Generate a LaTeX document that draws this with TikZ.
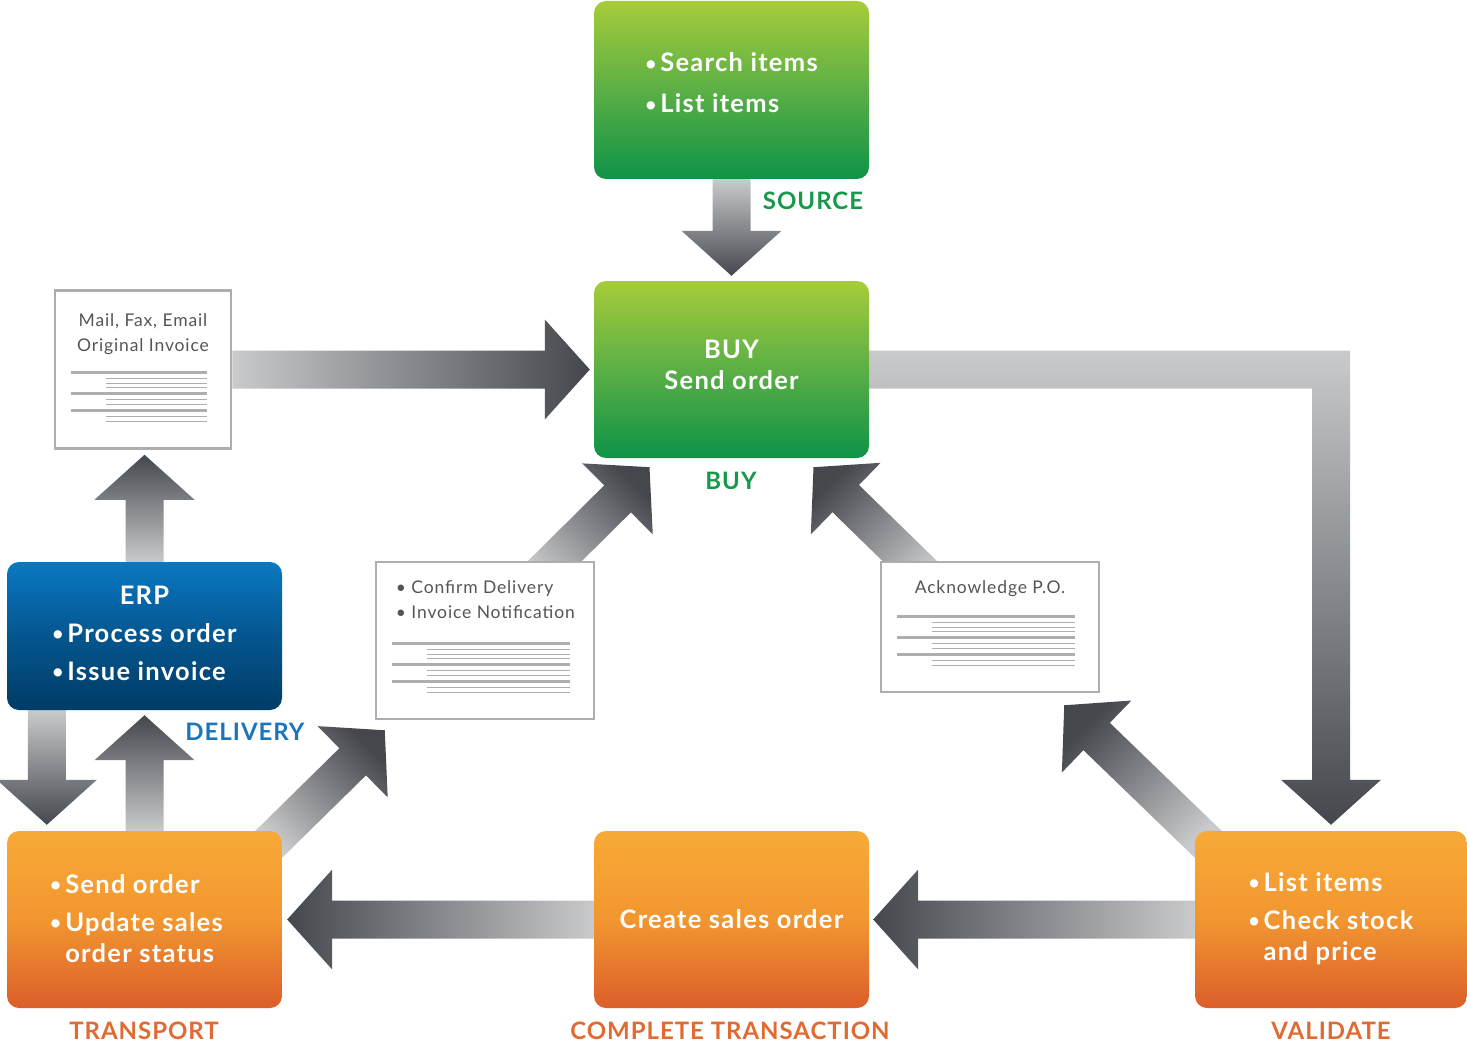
\documentclass[tikz,border=0pt]{standalone}
\usepackage{fontspec}
\setmainfont{Lato}
\usepackage{tikz}
\usetikzlibrary{positioning,calc,backgrounds}

\definecolor{greentop}{HTML}{A7CC3A}
\definecolor{greenmid}{HTML}{5BAF45}
\definecolor{greenbot}{HTML}{0E9347}
\definecolor{bluetop}{HTML}{0A78C2}
\definecolor{bluemid}{HTML}{04568F}
\definecolor{bluebot}{HTML}{003C66}
\definecolor{orangetop}{HTML}{F7AA37}
\definecolor{orangemid}{HTML}{F29630}
\definecolor{orangebot}{HTML}{DB5E2A}
\definecolor{glight}{HTML}{C8CACC}
\definecolor{gdark}{HTML}{44484D}
\definecolor{docline}{HTML}{AEAEAE}
\definecolor{doctxt}{HTML}{555555}
\definecolor{lblgreen}{HTML}{16994B}
\definecolor{lblblue}{HTML}{1B75BC}
\definecolor{lblorange}{HTML}{E06A31}

% small bullet for the boxes
\newcommand\bul{\raisebox{1.5pt}{\fontsize{19}{19}\selectfont•}}
% block arrow: [shading angle]{tail}{tip}
\newcommand\blockarrow[3][0]{%
  \coordinate (h) at ($(#3)!45pt!(#2)$);
  \shade[garrow, shading angle=#1]
    ($(#2)!19pt!90:(#3)$) -- ($(h)!19pt!90:(#3)$) -- ($(h)!50pt!90:(#3)$) -- (#3)
    -- ($(h)!50pt!-90:(#3)$) -- ($(h)!19pt!-90:(#3)$) -- ($(#2)!19pt!-90:(#3)$) -- cycle;
}
% ruled lines on a document
\newcommand\doclines[2]{%
  \foreach \dy in {0,21,38}
    \draw[docthick] ($(#1.north west)+(17,#2+\dy)$) -- ($(#1.north east)+(-25,#2+\dy)$);
  \foreach \dy in {6,11,15,27,32,44,49}
    \draw[docthin] ($(#1.north west)+(52,#2+\dy)$) -- ($(#1.north east)+(-25,#2+\dy)$);
}

\begin{document}
\begin{tikzpicture}[x=1pt,y=-1pt,
  box/.style={rounded corners=12pt, minimum width=275pt, text=white, inner sep=0pt,
    font=\bfseries\fontsize{25.5}{31}\selectfont\addfontfeature{LetterSpace=5}},
  greenbox/.style={box, top color=greentop, bottom color=greenbot, middle color=greenmid},
  bluebox/.style={box, top color=bluetop, bottom color=bluebot, middle color=bluemid},
  orangebox/.style={box, top color=orangetop, bottom color=orangebot, middle color=orangemid},
  doc/.style={draw=docline, line width=2.5pt, fill=white, inner sep=0pt},
  doctext/.style={text=doctxt, inner sep=0pt, font=\fontsize{17.5}{25}\selectfont\addfontfeature{LetterSpace=5}},
  lbl/.style={inner sep=0pt, font=\bfseries\fontsize{24}{28}\selectfont\addfontfeature{LetterSpace=4}},
  garrow/.style={top color=gdark, bottom color=glight},
  docthick/.style={docline, line width=3pt},
  docthin/.style={docline, line width=1.2pt}]
  \useasboundingbox (0,0) rectangle (1467,1043);

  % process boxes
  \node (src) [greenbox, minimum height=178pt] at (731.5,90)
    {\begin{tabular}{@{}l@{\hspace{4pt}}l@{}}\bul&Search items\\[10pt] \bul&List items\rule[-17pt]{0pt}{0pt}\end{tabular}};
  \node (buy) [greenbox, minimum height=177pt] at (731.5,369.5)
    {\begin{tabular}{@{}c@{}}BUY\\Send order\rule[-13pt]{0pt}{0pt}\end{tabular}};
  \node (erp) [bluebox, minimum height=148pt] at (144.5,636)
    {\begin{tabular}{@{}l@{\hspace{4pt}}l@{}}\multicolumn{2}{c}{ERP}\\[7pt] \bul&Process order\\[7pt] \bul&Issue invoice\end{tabular}};
  \node (trn) [orangebox, minimum height=177pt] at (144.5,919.5)
    {\begin{tabular}{@{}l@{\hspace{4pt}}l@{\hspace{16pt}}}\bul&Send order\rule{0pt}{26pt}\\[7pt] \bul&Update sales\\ &order status\end{tabular}};
  \node (cso) [orangebox, minimum height=177pt] at (731.5,919.5) {Create sales order};
  \node (val) [orangebox, minimum width=272pt, minimum height=177pt] at (1331,919.5)
    {\begin{tabular}{@{}l@{\hspace{4pt}}l@{}}\bul&List items\\[7pt] \bul&Check stock\\ &and price\end{tabular}};

  % documents
  \node (mail) [doc, minimum width=176pt, minimum height=158pt] at (143,369.5) {};
  \node (conf) [doc, minimum width=218pt, minimum height=157pt] at (485,640.5) {};
  \node (ack) [doc, minimum width=218pt, minimum height=130pt] at (990,627) {};
  \node (mailtxt) [doctext, align=center, below=24pt of mail.north] {Mail, Fax, Email\\Original Invoice};
  \node (conftxt) [doctext, align=left, below right=20pt and 21pt of conf.north west] {• Confirm Delivery\\• Invoice Notification};
  \node (acktxt) [doctext, below=20pt of ack.north] {Acknowledge P.O.};
  \doclines{mail}{83}
  \doclines{conf}{83}
  \doclines{ack}{56}

  % stage labels
  \node (srclbl) [lbl, text=lblgreen] at (813,201) {SOURCE};
  \node (buylbl) [lbl, text=lblgreen] at (731,481) {BUY};
  \node (dellbl) [lbl, text=lblblue] at (245,732) {DELIVERY};
  \node (trnlbl) [lbl, text=lblorange] at (144,1031) {TRANSPORT};
  \node (csolbl) [lbl, text=lblorange] at (730,1031) {COMPLETE TRANSACTION};
  \node (vallbl) [lbl, text=lblorange] at (1331,1031) {VALIDATE};

  % arrow ends
  \coordinate (buytop) at ($(buy.north)+(0,-5)$);
  \coordinate (buyleft) at ($(buy.west)+(-4,0)$);
  \coordinate (buybl) at ($(buy.south)+(-82,9)$);
  \coordinate (buybr) at ($(buy.south)+(82,9)$);
  \coordinate (mailbot) at ($(erp.north |- mail.south)+(0,5)$);
  \coordinate (erpbot) at ($(erp.south)+(0,5)$);
  \coordinate (erpout) at ($(erp.south west)+(40,0)$);
  \coordinate (trnin) at ($(trn.north west)+(40,-6)$);
  \coordinate (trnout) at ($(trn.north east)+(-15,15)$);
  \coordinate (confin) at ($(conf.south west)+(10,10)$);
  \coordinate (confout) at ($(conf.north)+(50,20)$);
  \coordinate (ackout) at ($(ack.north)+(-60,20)$);
  \coordinate (ackin) at ($(ack.south east)+(-36,12)$);
  \coordinate (valout) at ($(val.north west)+(15,15)$);
  \coordinate (trnright) at ($(trn.east)+(5,0)$);
  \coordinate (csoright) at ($(cso.east)+(4,0)$);

  \begin{pgfonlayer}{background}
    \blockarrow[180]{src.south}{buytop}
    \blockarrow[-90]{mail.east}{buyleft}
    \blockarrow[0]{erp.north}{mailbot}
    \blockarrow[180]{erpout}{trnin}
    \blockarrow[0]{trn.north}{erpbot}
    \blockarrow[-45]{trnout}{confin}
    \blockarrow[-45]{confout}{buybl}
    \blockarrow[45]{ackout}{buybr}
    \blockarrow[45]{valout}{ackin}
    \blockarrow[90]{cso.west}{trnright}
    \blockarrow[90]{val.west}{csoright}
    % buy -> validate, around the corner
    \shade[garrow, shading angle=180]
      ($(buy.east)+(0,-19)$) -- ($(buy.east -| val.north)+(19,-19)$) -- ($(val.north)+(19,-51)$)
      -- ($(val.north)+(50,-51)$) -- ($(val.north)+(0,-6)$) -- ($(val.north)+(-50,-51)$)
      -- ($(val.north)+(-19,-51)$) -- ($(buy.east -| val.north)+(-19,19)$) -- ($(buy.east)+(0,19)$) -- cycle;
  \end{pgfonlayer}
\end{tikzpicture}
\end{document}
